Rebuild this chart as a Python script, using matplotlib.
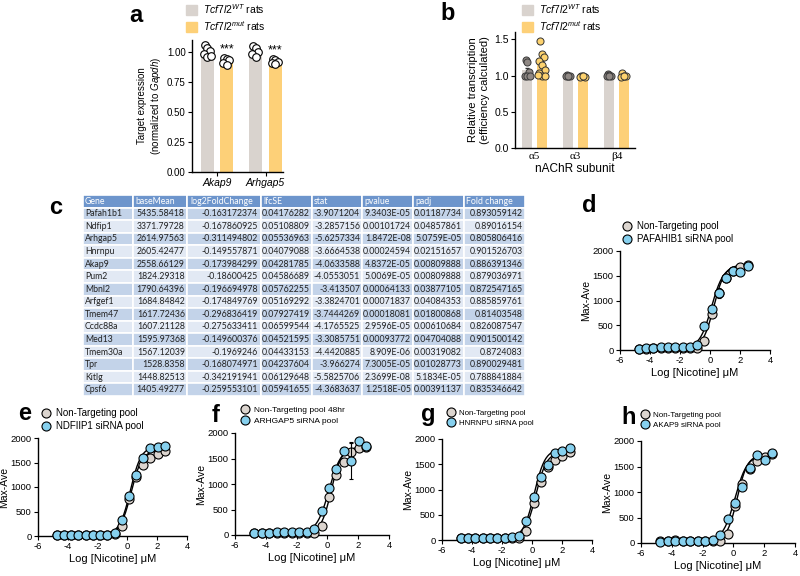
import numpy as np
import matplotlib.pyplot as plt
from matplotlib.lines import Line2D
from matplotlib.patches import Patch
from matplotlib.table import Table

plt.rcParams['font.family'] = ['Liberation Sans', 'DejaVu Sans']
plt.rcParams['mathtext.fontset'] = 'custom'
plt.rcParams['mathtext.rm'] = 'Liberation Sans'
plt.rcParams['mathtext.it'] = 'Liberation Sans:italic'
plt.rcParams['axes.unicode_minus'] = False
plt.rcParams['axes.linewidth'] = 1.0
plt.rcParams['xtick.major.size'] = 3
plt.rcParams['ytick.major.size'] = 3
plt.rcParams['xtick.major.pad'] = 1.5
plt.rcParams['ytick.major.pad'] = 1.5

# ---- panel a: qPCR targets
a_genes = ['Akap9', 'Arhgap5']
a_wt_mean = [1.0, 1.0]
a_mut_mean = [0.93, 0.92]
a_wt_pts = [[1.06, 1.03, 1.01, 0.98, 0.96, 0.97], [1.05, 1.03, 1.00, 0.98, 0.96]]
a_mut_pts = [[0.95, 0.94, 0.93, 0.91, 0.89], [0.94, 0.93, 0.92, 0.91, 0.90]]

# ---- panel b: nAChR subunits
b_subunits = ['α5', 'α3', 'β4']
b_wt_mean = [1.07, 1.0, 1.0]
b_mut_mean = [1.15, 0.98, 0.99]
b_wt_sem = [0.04, 0.005, 0.005]
b_mut_sem = [0.05, 0.005, 0.005]
b_wt_pts = [[1.21, 1.18, 1.05, 1.0, 1.0, 0.99], [1.01, 1.0, 1.0, 0.99, 1.0], [1.02, 1.01, 1.0, 1.0, 0.99]]
b_mut_pts = [[1.47, 1.29, 1.26, 1.2, 1.14, 1.08, 1.03, 1.0, 0.99, 1.01],
             [1.0, 0.99, 0.98, 0.98, 0.99], [1.03, 1.0, 0.99, 0.98, 1.0]]

# ---- panel c: DESeq table
tbl_cols = ['Gene', 'baseMean', 'log2FoldChange', 'lfcSE', 'stat', 'pvalue', 'padj', 'Fold change']
tbl_rows = [
    ['Pafah1b1', '5435.58418', '-0.163172374', '0.04176282', '-3.9071204', '9.3403E-05', '0.01187734', '0.893059142'],
    ['Ndfip1', '3371.79728', '-0.167860925', '0.05108809', '-3.2857156', '0.00101724', '0.04857861', '0.89016154'],
    ['Arhgap5', '2614.97563', '-0.311494802', '0.05536963', '-5.6257334', '1.8472E-08', '5.0759E-05', '0.805806416'],
    ['Hnrnpu', '2605.42477', '-0.149557871', '0.04079088', '-3.6664538', '0.00024594', '0.02151657', '0.901526703'],
    ['Akap9', '2558.66129', '-0.173984299', '0.04281785', '-4.0633588', '4.8372E-05', '0.00809888', '0.886391346'],
    ['Pum2', '1824.29318', '-0.18600425', '0.04586689', '-4.0553051', '5.0069E-05', '0.00809888', '0.879036971'],
    ['Mbnl2', '1790.64396', '-0.196694978', '0.05762255', '-3.413507', '0.00064133', '0.03877105', '0.872547165'],
    ['Arfgef1', '1684.84842', '-0.174849769', '0.05169292', '-3.3824701', '0.00071837', '0.04084353', '0.885859761'],
    ['Tmem47', '1617.72436', '-0.296836419', '0.07927419', '-3.7444269', '0.00018081', '0.01800868', '0.81403548'],
    ['Ccdc88a', '1607.21128', '-0.275633411', '0.06599544', '-4.1765525', '2.9596E-05', '0.00610684', '0.826087547'],
    ['Med13', '1595.97368', '-0.149600376', '0.04521595', '-3.3085751', '0.00093772', '0.04704088', '0.901500142'],
    ['Tmem30a', '1567.12039', '-0.1969246', '0.04433153', '-4.4420885', '8.909E-06', '0.00319082', '0.8724083'],
    ['Tpr', '1528.8358', '-0.168074971', '0.04237604', '-3.966274', '7.3005E-05', '0.01028773', '0.890029481'],
    ['Kitlg', '1448.82513', '-0.342191941', '0.06129648', '-5.5825706', '2.3699E-08', '5.1834E-05', '0.788841884'],
    ['Cpsf6', '1405.49277', '-0.259553101', '0.05941655', '-4.3683637', '1.2518E-05', '0.00391137', '0.835346642'],
]
tbl_widths = [50, 54, 74, 51, 50, 51, 51, 61]

# ---- panels d-h: nicotine dose response
nic_log = [-4.75, -4.27, -3.78, -3.3, -2.8, -2.32, -1.83, -1.35, -0.86, -0.38, 0.1, 0.58, 1.06, 1.55, 2.03, 2.5]

d_nt = [30, 30, 40, 40, 40, 40, 40, 50, 40, 180, 720, 1150, 1450, 1600, 1680, 1720]
d_si = [30, 40, 50, 60, 70, 60, 60, 60, 110, 480, 820, 1150, 1450, 1600, 1580, 1700]
d_nt_sem = [0, 0, 0, 0, 0, 0, 0, 0, 0, 20, 40, 60, 50, 40, 40, 40]
d_si_sem = [0, 0, 0, 0, 0, 0, 0, 0, 0, 20, 40, 100, 40, 80, 40, 40]

e_nt = [30, 30, 30, 30, 30, 30, 30, 30, 50, 200, 750, 1200, 1440, 1590, 1680, 1740]
e_si = [30, 30, 30, 30, 30, 30, 30, 30, 60, 330, 820, 1250, 1600, 1800, 1820, 1830]
e_nt_sem = [0, 0, 0, 0, 0, 0, 0, 0, 0, 20, 40, 60, 50, 60, 40, 40]
e_si_sem = [0, 0, 0, 0, 0, 0, 0, 0, 0, 20, 40, 60, 40, 40, 40, 40]

f_nt = [30, 30, 30, 30, 30, 30, 30, 30, 40, 180, 740, 1170, 1440, 1620, 1700, 1730]
f_si = [30, 30, 40, 50, 50, 60, 60, 60, 110, 480, 930, 1290, 1650, 1450, 1850, 1750]
f_nt_sem = [0, 0, 0, 0, 0, 0, 0, 0, 0, 20, 40, 60, 50, 200, 40, 80]
f_si_sem = [0, 0, 0, 0, 0, 0, 0, 0, 0, 20, 40, 60, 40, 350, 40, 80]

g_nt = [30, 30, 40, 40, 40, 40, 40, 40, 40, 170, 740, 1150, 1450, 1580, 1670, 1740]
g_si = [30, 30, 30, 40, 40, 40, 40, 50, 70, 370, 850, 1240, 1480, 1720, 1770, 1820]
g_nt_sem = [0, 0, 0, 0, 0, 0, 0, 0, 0, 20, 40, 80, 50, 40, 40, 40]
g_si_sem = [0, 0, 0, 0, 0, 0, 0, 0, 0, 20, 40, 60, 40, 40, 40, 40]

h_nt = [30, 30, 50, 40, 40, 40, 40, 40, 40, 170, 720, 1160, 1450, 1600, 1680, 1750]
h_si = [20, 30, 40, 40, 40, 40, 40, 50, 150, 470, 780, 1100, 1470, 1720, 1620, 1760]
h_nt_sem = [0, 0, 0, 0, 0, 0, 0, 0, 0, 20, 40, 80, 50, 60, 40, 40]
h_si_sem = [0, 0, 0, 0, 0, 0, 0, 0, 0, 20, 40, 60, 40, 40, 40, 40]

# 4PL fit parameters: bottom, top, logEC50, hill
d_fit = [(30, 1720, 0.25, 1.2), (35, 1700, 0.1, 1.1)]
e_fit = [(30, 1750, 0.25, 1.2), (30, 1830, 0.2, 1.2)]
f_fit = [(30, 1720, 0.25, 1.3), (40, 1720, 0.1, 1.1)]
g_fit = [(35, 1740, 0.25, 1.2), (35, 1800, 0.15, 1.2)]
h_fit = [(35, 1730, 0.25, 1.3), (35, 1720, 0.1, 1.1)]

si_names = ['PAFAHIB1 siRNA pool', 'NDFIIP1 siRNA pool', 'ARHGAP5 siRNA pool', 'HNRNPU siRNA pool', 'AKAP9 siRNA pool']
nt_names = ['Non-Targeting pool', 'Non-Targeting pool', 'Non-Targeting pool 48hr', 'Non-Targeting pool', 'Non-Targeting pool']

WT_GREY = '#d9d3ce'
MUT_YEL = '#fdd078'
NT_GREY = '#dcd5cf'
SI_BLUE = '#86d0ee'

W, H = 800, 576
fig = plt.figure(figsize=(8, 5.76), dpi=100)


def px_axes(left, top, right, bottom):
    return fig.add_axes([left / W, 1 - bottom / H, (right - left) / W, (bottom - top) / H])


def letter(x, y, s):
    fig.text(x / W, 1 - y / H, s, fontsize=17, fontweight='bold', va='center', ha='left')


def spread(n, w):
    # simple deterministic beeswarm-ish offsets
    return np.array([((i % 3) - 1) * w * (1 + (i // 3) * 0.4) for i in range(n)])


def clean(ax):
    ax.spines['top'].set_visible(False)
    ax.spines['right'].set_visible(False)


# ---------------- panel a
ax = px_axes(192, 40, 283, 172)
clean(ax)
xg = np.arange(len(a_genes))
ax.bar(xg - 0.2, a_wt_mean, width=0.27, color=WT_GREY)
ax.bar(xg + 0.2, a_mut_mean, width=0.27, color=MUT_YEL)
for i in range(len(a_genes)):
    ax.scatter(xg[i] - 0.2 + spread(len(a_wt_pts[i]), 0.05), a_wt_pts[i], s=30,
               facecolor='white', edgecolor='black', linewidth=0.8, zorder=3, clip_on=False)
    ax.scatter(xg[i] + 0.2 + spread(len(a_mut_pts[i]), 0.05), a_mut_pts[i], s=30,
               facecolor='white', edgecolor='black', linewidth=0.8, zorder=3, clip_on=False)
    ax.text(xg[i] + 0.2, max(a_mut_pts[i]) + 0.02, '***', ha='center', va='bottom', fontsize=9)
ax.set_xlim(-0.515, 1.36)
ax.set_ylim(0, 1.1)
ax.set_yticks([0, 0.25, 0.5, 0.75, 1.0])
ax.set_yticklabels(['0.00', '0.25', '0.50', '0.75', '1.00'], fontsize=7)
ax.set_xticks(xg)
ax.set_xticklabels(a_genes, fontsize=7.5, style='italic')
ax.set_ylabel('Target expression\n(normalized to $\\it{Gapdh}$)', fontsize=7, labelpad=3)
ax.legend(handles=[Patch(color=WT_GREY, label='$\\it{Tcf7l2}^{WT}$ rats'),
                   Patch(color=MUT_YEL, label='$\\it{Tcf7l2}^{mut}$ rats')],
          loc='upper left', bbox_to_anchor=(186 / W, 1 - 2 / H), bbox_transform=fig.transFigure,
          frameon=False, fontsize=7.5, handlelength=1.1, handleheight=1.1, handletextpad=0.5,
          labelspacing=0.3, borderpad=0, borderaxespad=0)
letter(129, 16, 'a')

# ---------------- panel b
ax = px_axes(515, 32, 635, 148)
clean(ax)
xs = np.arange(len(b_subunits))
ax.bar(xs - 0.18, b_wt_mean, width=0.24, color=WT_GREY)
ax.bar(xs + 0.18, b_mut_mean, width=0.24, color=MUT_YEL)
ax.errorbar(xs - 0.18, b_wt_mean, yerr=b_wt_sem, fmt='none', ecolor='#333333', elinewidth=0.8, capsize=1.5, zorder=2)
ax.errorbar(xs + 0.18, b_mut_mean, yerr=b_mut_sem, fmt='none', ecolor='#333333', elinewidth=0.8, capsize=1.5, zorder=2)
for i in range(len(b_subunits)):
    ax.scatter(xs[i] - 0.18 + spread(len(b_wt_pts[i]), 0.04), b_wt_pts[i], s=26,
               facecolor='#8f8884', edgecolor='#3a3a3a', linewidth=0.7, zorder=3, clip_on=False)
    ax.scatter(xs[i] + 0.18 + spread(len(b_mut_pts[i]), 0.045), b_mut_pts[i], s=26,
               facecolor='#fdd26e', edgecolor='#333333', linewidth=0.7, zorder=3, clip_on=False)
ax.set_xlim(-0.48, 2.45)
ax.set_ylim(0, 1.6)
ax.set_yticks([0, 0.5, 1.0, 1.5])
ax.set_yticklabels(['0.0', '0.5', '1.0', '1.5'], fontsize=7.5)
ax.set_xticks(xs)
ax.set_xticklabels(b_subunits, fontsize=8, family='Liberation Serif')
ax.tick_params(axis='x', length=0, pad=3)
ax.set_xlabel('nAChR subunit', fontsize=8.5, labelpad=1)
ax.set_ylabel('Relative transcription\n(efficiency calculated)', fontsize=8, labelpad=3)
ax.legend(handles=[Patch(color=WT_GREY, label='$\\it{Tcf7l2}^{WT}$ rats'),
                   Patch(color=MUT_YEL, label='$\\it{Tcf7l2}^{mut}$ rats')],
          loc='upper left', bbox_to_anchor=(522 / W, 1 - 2 / H), bbox_transform=fig.transFigure,
          frameon=False, fontsize=7.5, handlelength=1.1, handleheight=1.1, handletextpad=0.5,
          labelspacing=0.3, borderpad=0, borderaxespad=0)
letter(440, 14, 'b')

# ---------------- panel c: table
ax = px_axes(83, 195, 525, 396)
ax.set_axis_off()
tb = Table(ax, bbox=[0, 0, 1, 1])
nrow = len(tbl_rows) + 1
tot = float(sum(tbl_widths))
for j, col in enumerate(tbl_cols):
    c = tb.add_cell(0, j, tbl_widths[j] / tot, 1.0 / nrow, text=col, loc='left', facecolor='#6d95cc')
    c.get_text().set_color('white')
for i, row in enumerate(tbl_rows):
    fc = '#c3d3e9' if i % 2 == 0 else '#e2e9f4'
    for j, val in enumerate(row):
        tb.add_cell(i + 1, j, tbl_widths[j] / tot, 1.0 / nrow, text=val,
                    loc='left' if j == 0 else 'right', facecolor=fc)
for cell in tb.get_celld().values():
    cell.set_edgecolor('white')
    cell.set_linewidth(1.2)
    cell.PAD = 0.04
    cell.get_text().set_fontfamily(['Lato', 'DejaVu Sans'])
    if cell.get_text().get_color() != 'white':
        cell.get_text().set_color('#222222')
tb.auto_set_font_size(False)
tb.set_fontsize(6.3)
ax.add_table(tb)
letter(49, 207, 'c')

# ---------------- panels d-h
panels = [
    ('d', (620, 251, 770, 350), d_nt, d_si, d_nt_sem, d_si_sem, d_fit, (582, 205), (622, 221), 7),
    ('e', (38, 438, 187, 536), e_nt, e_si, e_nt_sem, e_si_sem, e_fit, (18, 413), (41, 408), 7),
    ('f', (235, 433, 389, 535), f_nt, f_si, f_nt_sem, f_si_sem, f_fit, (212, 415), (241, 406), 6),
    ('g', (442, 439, 592, 540), g_nt, g_si, g_nt_sem, g_si_sem, g_fit, (421, 415), (447, 409), 5.7),
    ('h', (641, 441, 795, 543), h_nt, h_si, h_nt_sem, h_si_sem, h_fit, (621, 417), (641, 411), 5.8),
]
xfit = np.linspace(nic_log[0], nic_log[-1], 200)
for k, (lab, box, nt, si, nt_e, si_e, fits, lpos, legpos, lfs) in enumerate(panels):
    ax = px_axes(*box)
    clean(ax)
    for (bot, top, ec50, hill) in fits:
        ax.plot(xfit, bot + (top - bot) / (1 + 10 ** ((ec50 - xfit) * hill)), color='black', lw=1.0, zorder=2)
    ax.errorbar(nic_log, nt, yerr=nt_e, fmt='o', ms=6.5, mfc=NT_GREY, mec='black', mew=0.8,
                ecolor='black', elinewidth=0.8, capsize=1.5, zorder=3, clip_on=False)
    ax.errorbar(nic_log, si, yerr=si_e, fmt='o', ms=6.5, mfc=SI_BLUE, mec='black', mew=0.8,
                ecolor='black', elinewidth=0.8, capsize=1.5, zorder=4, clip_on=False)
    ax.set_xlim(-6, 4)
    ax.set_ylim(0, 2000)
    ax.set_xticks([-6, -4, -2, 0, 2, 4])
    ax.set_yticks([0, 500, 1000, 1500, 2000])
    ax.tick_params(labelsize=6.8)
    ax.set_xlabel('Log [Nicotine] μM', fontsize=8, labelpad=2)
    ax.set_ylabel('Max-Ave', fontsize=7.5, labelpad=1)
    hnd = [Line2D([], [], marker='o', ls='none', ms=6.5, mfc=NT_GREY, mec='black', mew=0.8, label=nt_names[k]),
           Line2D([], [], marker='o', ls='none', ms=6.5, mfc=SI_BLUE, mec='black', mew=0.8, label=si_names[k])]
    ax.legend(handles=hnd, loc='upper left', bbox_to_anchor=(legpos[0] / W, 1 - legpos[1] / H),
              bbox_transform=fig.transFigure, frameon=False, fontsize=lfs, handlelength=1.0,
              handletextpad=0.5, labelspacing=0.35, borderpad=0, borderaxespad=0)
    letter(lpos[0], lpos[1], lab)

fig.savefig('out.png', dpi=100, facecolor='white')
